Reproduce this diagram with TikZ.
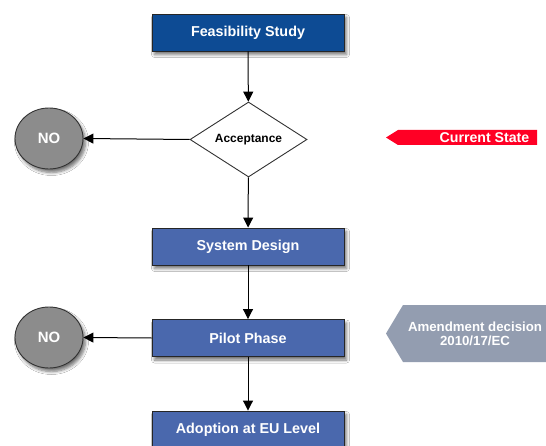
\documentclass[tikz,border=0pt]{standalone}
\usepackage{fontspec}
\setmainfont{Liberation Sans}
\usetikzlibrary{shapes.geometric,shadows.blur,arrows.meta}
\definecolor{darkblue}{HTML}{0D4B94}
\definecolor{midblue}{HTML}{4A68AD}
\definecolor{nogray}{HTML}{8C8C8C}
\definecolor{redtag}{HTML}{FF0025}
\definecolor{graytag}{HTML}{939DB0}
\tikzset{
  stepbox/.style={draw=black!85, line width=0.9bp, fill=midblue, minimum width=192bp, minimum height=37bp,
    text=white, font=\bfseries\fontsize{14.4}{16}\selectfont, inner sep=0pt,
    blur shadow={shadow xshift=2.5bp, shadow yshift=-3.5bp, shadow blur steps=6, shadow blur radius=3bp, shadow opacity=55}},
  nocircle/.style={ellipse, draw=black!80, line width=0.9bp, fill=nogray, minimum width=68bp, minimum height=61bp,
    text=white, font=\bfseries\fontsize{15}{17}\selectfont, inner sep=0pt,
    blur shadow={shadow xshift=2.5bp, shadow yshift=-3.5bp, shadow blur steps=6, shadow blur radius=3bp, shadow opacity=55}},
  decision/.style={diamond, draw=black!80, line width=0.9bp, fill=white, minimum width=117bp, minimum height=75bp,
    aspect=1.56, inner sep=0pt, font=\bfseries\fontsize{12}{14}\selectfont},
  flow/.style={line width=1bp, -{Triangle[length=10bp,width=10bp]}},
  tagtext/.style={text=white, font=\bfseries\fontsize{13.3}{14.5}\selectfont, align=center, inner sep=0pt}
}
\begin{document}
\begin{tikzpicture}[x=1bp,y=-1bp]
\useasboundingbox[clip] (0,0) rectangle (546,446);
\fill[white] (0,0) rectangle (546,446);
\node[stepbox, fill=darkblue] (feas) at (248,32.5) {Feasibility Study};
\node[decision] (acc) at (248.5,139.5) {Acceptance};
\node[nocircle] (no1) at (49,138.5) {NO};
\node[stepbox] (sys) at (248,246.5) {System Design};
\node[stepbox] (pilot) at (248,338) {Pilot Phase};
\node[stepbox] (adopt) at (248,429.5) {Adoption at EU Level};
\node[nocircle] (no2) at (49,337.5) {NO};
\draw[flow] (feas) -- (acc);
\draw[flow] (acc) -- (sys);
\draw[flow] (sys) -- (pilot);
\draw[flow] (pilot) -- (adopt);
\draw[flow] (acc.west) -- (no1.east);
\draw[flow] (pilot.west) -- (no2.east);
% Current State tag
\fill[redtag] (386,137.5) -- (398,130) -- (537,130) -- (537,145) -- (398,145) -- cycle;
\node[tagtext, font=\bfseries\fontsize{14.2}{16}\selectfont] (cur) at (484.5,138) {Current State};
% Amendment tag
\fill[graytag] (386,333.5) -- (403,305) -- (546,305) -- (546,362) -- (403,362) -- cycle;
\node[tagtext] (amend) at (475,334) {Amendment decision\\2010/17/EC};
\end{tikzpicture}
\end{document}
